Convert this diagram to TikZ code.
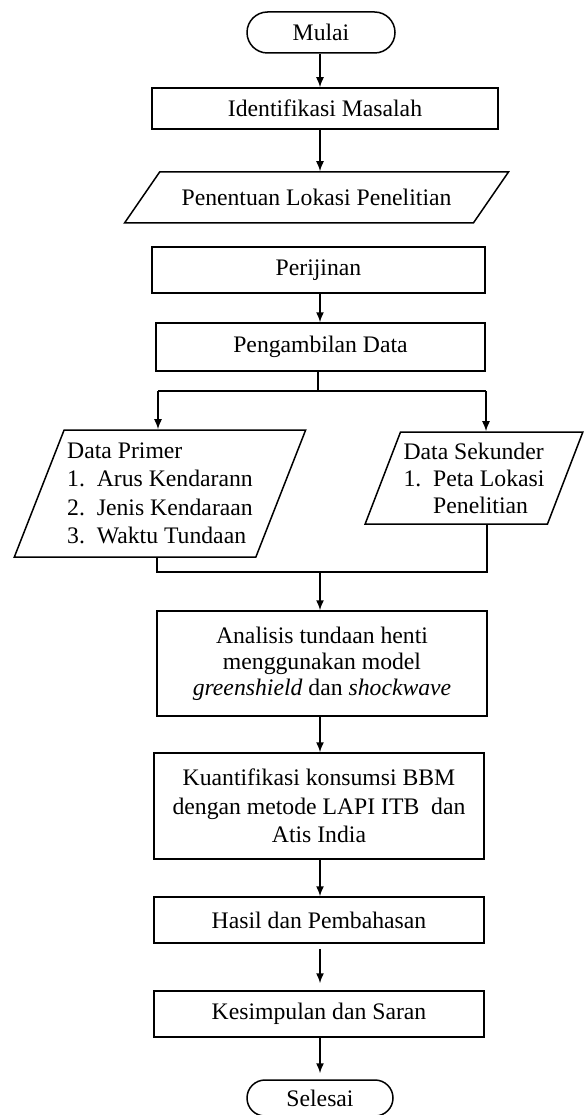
\documentclass[tikz,border=0pt]{standalone}
\usepackage{fontspec}
\setmainfont{Liberation Serif}
\usetikzlibrary{shapes.geometric,shapes.misc,arrows.meta}

\begin{document}
\begin{tikzpicture}[x=1pt,y=-1pt,
            every node/.style = {draw, line width=1.5pt, inner sep=2pt,
                                 font=\fontsize{23.7}{26}\selectfont},
            proses/.style = {rectangle, align=center, minimum width=330pt, minimum height=46pt},
            terminal/.style = {rounded rectangle, minimum width=152pt, minimum height=41pt},
            datain/.style = {trapezium, trapezium left angle=65, trapezium right angle=115,
                             trapezium stretches=true},
            alur/.style = {draw, line width=1.5pt, -{Latex[length=10pt,width=8pt]}}
        ]
        \useasboundingbox (0,0) rectangle (585,1115);
        \coordinate (ax) at (320,0);
        % jalur utama
        \node[terminal] (A1) at (321,32.5) {Mulai};
        \node[proses, minimum width=346pt, minimum height=41pt] (A2) at (325,108.5) {Identifikasi Masalah};
        \node[datain, trapezium left angle=34, trapezium right angle=146,
              minimum width=385pt, minimum height=51pt] (A3) at (316.5,197.5) {Penentuan Lokasi Penelitian};
        \node[proses, minimum width=333pt] (A4) at (318.5,270) {Perijinan};
        \node[proses, minimum width=329pt, minimum height=48pt] (A5) at (320.5,347) {Pengambilan Data};
        % data
        \node[datain, minimum width=292pt, minimum height=127pt, align=left,
              font=\fontsize{23.7}{28.5}\selectfont] (B1) at (160,493.5)
            {Data Primer\\1.~~Arus Kendarann\\2.~~Jenis Kendaraan\\3.~~Waktu Tundaan};
        \node[datain, minimum width=218pt, minimum height=92pt, align=left,
              font=\fontsize{23.7}{27}\selectfont] (B2) at (474,478)
            {Data Sekunder\\1.~~Peta Lokasi\\\phantom{1.~~}Penelitian};
        \node[proses, minimum height=105pt] (A6) at (322,663.5)
            {Analisis tundaan henti\\menggunakan model\\\textit{greenshield} dan \textit{shockwave}};
        \node[proses, minimum height=106pt, font=\fontsize{23.7}{28.5}\selectfont] (A7) at (319,806)
            {Kuantifikasi konsumsi BBM\\dengan metode LAPI ITB\ \ dan\\Atis India};
        \node[proses] (A8) at (319,920) {Hasil dan Pembahasan};
        \node[proses] (A9) at (319,1014) {Kesimpulan dan Saran};
        \node[terminal, minimum width=150pt, minimum height=36pt] (A10) at (320,1098) {Selesai};

        \coordinate (J0) at (318,391);
        \coordinate (J1) at (158,391);
        \coordinate (J2) at (486,391);
        \coordinate (K0) at (320,572);
        \coordinate (K1) at (157,572);
        \coordinate (K2) at (487,572);

        \path (A1.south -| ax) edge[alur] (A2.north -| ax);
        \path (A2.south -| ax) edge[alur] (A3.north -| ax);
        \path (A4.south -| ax) edge[alur] (A5.north -| ax);
        \draw[line width=1.5pt] (A5.south -| J0) -- (J0);
        \draw[line width=1.5pt] (J1) -- (J2);
        \path (J1) edge[alur] (J1 |- B1.north);
        \path (J2) edge[alur] (J2 |- B2.north);
        \draw[line width=1.5pt] (K1 |- B1.south) -- (K1) -- (K2) -- (K2 |- B2.south);
        \path (K0) edge[alur] (K0 |- A6.north);
        \path (A6.south -| ax) edge[alur] (A7.north -| ax);
        \path (A7.south -| ax) edge[alur] (A8.north -| ax);
        \path (A8.south -| ax) edge[alur, shorten <=5pt, shorten >=7pt] (A9.north -| ax);
        \path (A9.south -| ax) edge[alur, shorten >=6pt] (A10.north -| ax);
    \end{tikzpicture}
\end{document}
